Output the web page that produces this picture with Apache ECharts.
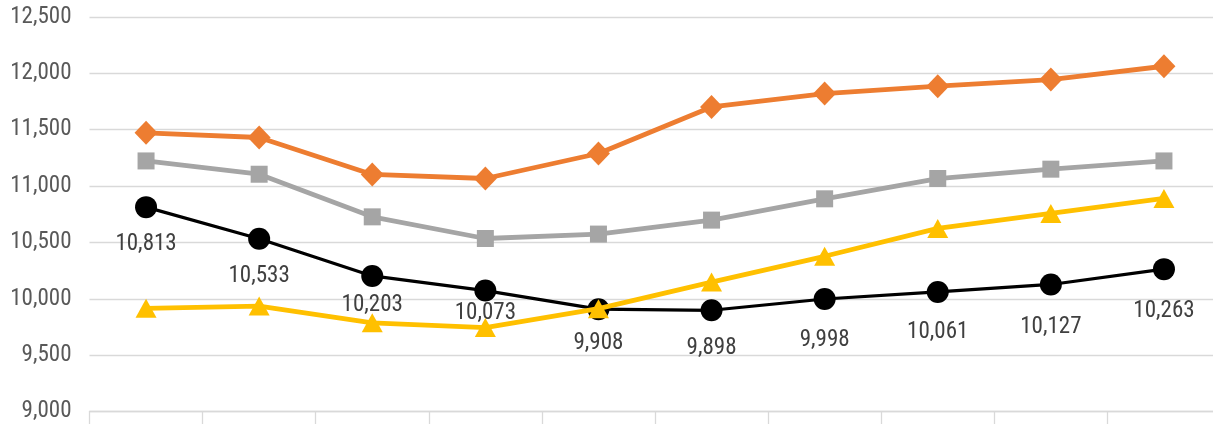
<!DOCTYPE html>
<html>
<head>
<meta charset="utf-8">
<script src="https://cdn.jsdelivr.net/npm/echarts@6/dist/echarts.min.js"></script>
<style>
  html, body { margin: 0; padding: 0; background: #fff; }
  #myChart { width: 1213px; height: 424px; }
</style>
</head>
<body>
<div id="myChart"></div>
<script>
// categories (the x labels are cut off below the picture)
var categories = ["1", "2", "3", "4", "5", "6", "7", "8", "9", "10"];
// series values
var orangeValues = [11472, 11431, 11103, 11067, 11289, 11702, 11821, 11886, 11945, 12063];
var grayValues = [11223, 11105, 10727, 10535, 10574, 10698, 10887, 11067, 11150, 11223];
var yellowValues = [9915, 9935, 9787, 9745, 9912, 10148, 10377, 10624, 10757, 10890];
var blackValues = [10813, 10533, 10203, 10073, 9908, 9898, 9998, 10061, 10127, 10263];
// y axis
var yMin = 9000;
var yMax = 12500;
var yStep = 500;

var font = "'Liberation Sans Narrow', 'Roboto Condensed', Roboto, sans-serif";
// labels that sit a bit closer to their point (px)
var labelLift = [0, 0, 8, 15, 3, 0, -4, -3, -5, -5];

function withCommas(v) {
  return Number(v).toLocaleString("en-US");
}

var myChart = echarts.init(document.getElementById("myChart"));

var blackData = blackValues.map(function (v, i) {
  return { value: v, label: { offset: [0, -labelLift[i]] } };
});

var option = {
  animation: false,
  grid: {
    left: 89.5,
    top: 17,
    bottom: 12.5,
    width: 1131,
    outerBoundsMode: "none",
    containLabel: false
  },
  xAxis: {
    type: "category",
    data: categories,
    boundaryGap: true,
    axisLine: { show: true, lineStyle: { color: "#d9d9d9", width: 1.3 } },
    axisTick: { show: true, length: 16, lineStyle: { color: "#d9d9d9", width: 1.3 } },
    axisLabel: { show: false },
    splitLine: { show: false }
  },
  yAxis: {
    type: "value",
    min: yMin,
    max: yMax,
    interval: yStep,
    axisLine: { show: false },
    axisTick: { show: false },
    axisLabel: {
      formatter: withCommas,
      color: "#595959",
      fontSize: 23,
      fontFamily: font,
      margin: 18
    },
    splitLine: { lineStyle: { color: "#d9d9d9", width: 1.3 } }
  },
  series: [
    {
      name: "black",
      type: "line",
      data: blackData,
      symbol: "circle",
      symbolSize: 22,
      itemStyle: { color: "#000000" },
      lineStyle: { color: "#000000", width: 3.2 },
      label: {
        show: true,
        position: "bottom",
        distance: 15,
        formatter: function (p) { return withCommas(p.value); },
        color: "#404040",
        fontSize: 23,
        fontFamily: font
      },
      z: 2
    },
    {
      name: "orange",
      type: "line",
      data: orangeValues,
      symbol: "diamond",
      symbolSize: [23, 24],
      itemStyle: { color: "#ED7D31" },
      lineStyle: { color: "#ED7D31", width: 4.8 },
      z: 3
    },
    {
      name: "gray",
      type: "line",
      data: grayValues,
      symbol: "rect",
      symbolSize: 17,
      itemStyle: { color: "#A5A5A5" },
      lineStyle: { color: "#A5A5A5", width: 4.8 },
      z: 3
    },
    {
      name: "yellow",
      type: "line",
      data: yellowValues,
      symbol: "triangle",
      symbolSize: [21, 19],
      itemStyle: { color: "#FFC000" },
      lineStyle: { color: "#FFC000", width: 4.8 },
      z: 4
    }
  ]
};

myChart.setOption(option);
</script>
</body>
</html>
